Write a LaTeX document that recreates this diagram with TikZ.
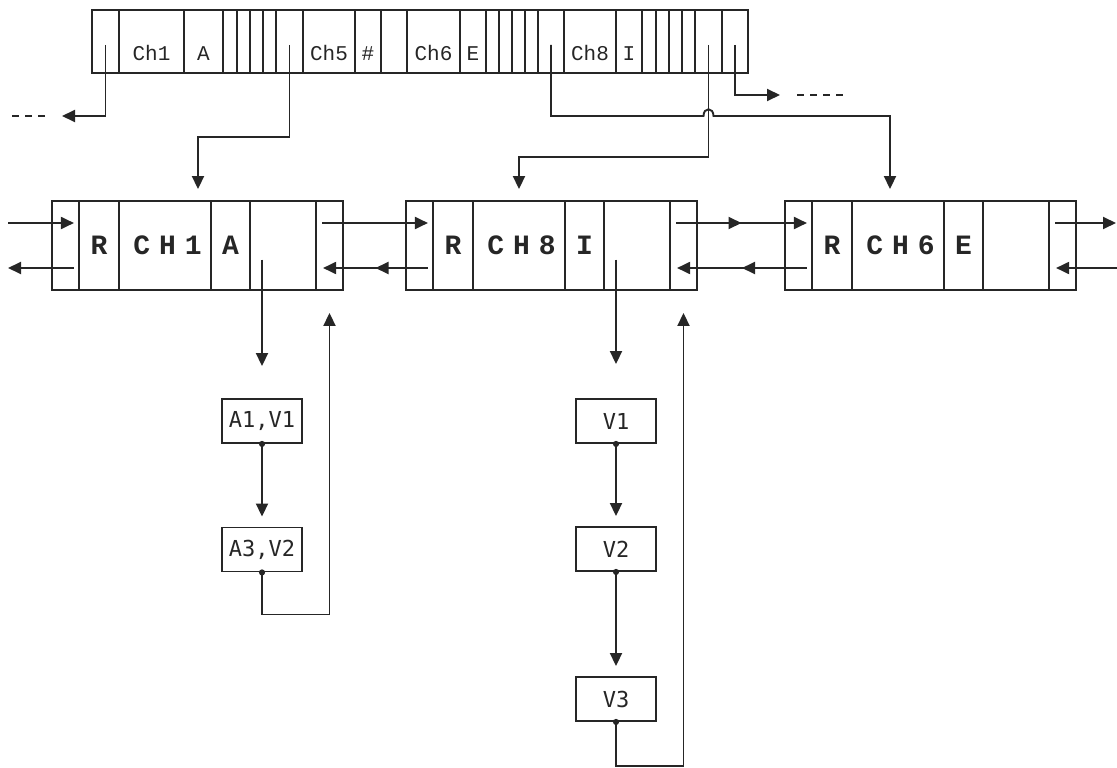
\documentclass[tikz,border=0pt]{standalone}
\usepackage{fontspec}
\setmonofont{Liberation Mono}
\newfontfamily\recfont{Liberation Mono}
\newfontfamily\recwide[LetterSpace=32]{Liberation Mono}
\newfontfamily\boxfont{DejaVu Sans Mono}
\usepackage{xcolor}
\usepackage{tikz}
\usetikzlibrary{arrows.meta,calc,decorations.markings}
\definecolor{ink}{HTML}{262626}

\begin{document}
\begin{tikzpicture}[x=1pt, y=-1pt,
  cell/.style={draw=ink, line width=1.9pt, inner sep=0pt, minimum height=63pt,
    text height=38pt, text depth=0pt, text=ink, font=\fontsize{21}{21}\selectfont\ttfamily},
  reccell/.style={draw=ink, line width=1.9pt, inner sep=0pt, minimum height=89pt,
    text=ink, font=\fontsize{28}{28}\selectfont\recfont\bfseries},
  item/.style={draw=ink, line width=1.9pt, inner sep=0pt, minimum width=80pt,
    minimum height=44pt, text=ink, font=\fontsize{22}{22}\selectfont\boxfont},
  link/.style={draw=ink, line width=1.9pt, -{Triangle[length=13pt,width=12pt]}},
  dotlink/.style={link, {Circle[length=6pt]}-{Triangle[length=13pt,width=12pt]}, shorten <=-3pt},
  twohead/.style={link, postaction={decorate}, decoration={markings,
    mark=at position 0.5 with {\arrow{Triangle[length=13pt,width=12pt]}}}},
  dashline/.style={draw=ink, line width=1.9pt, dash pattern=on 7pt off 6pt}]
\useasboundingbox (0,0) rectangle (1117,768);

% channel table
\foreach \n/\l/\r/\t in {1/92/119/{}, 2/119/184/Ch1, 3/184/223/A, 4/223/237/{},
    5/237/250/{}, 6/250/263/{}, 7/263/276/{}, 8/276/303/{}, 9/303/355/Ch5,
    10/355/381/\#, 11/381/407/{}, 12/407/460/Ch6, 13/460/486/E, 14/486/499/{},
    15/499/512/{}, 16/512/525/{}, 17/525/538/{}, 18/538/564/{}, 19/564/616/Ch8,
    20/616/642/I, 21/642/656/{}, 22/656/669/{}, 23/669/682/{}, 24/682/695/{},
    25/695/722/{}, 26/722/748/{}}
  \node[cell, minimum width=(\r-\l)*1pt] (b\n) at ({(\l+\r)/2}, 41.5) {\t};

% records
\foreach \k/\x/\nm/\tg in {1/52/CH1/A, 2/406/CH8/I, 3/785/CH6/E} {
  \foreach \i/\o/\w/\t in {1/0/27/{}, 2/27/40/R, 3/67/92/{\kern5pt\recwide\nm},
      4/159/39/\tg, 5/198/66/{}, 6/264/27/{}}
    \node[reccell, minimum width=\w*1pt] (r\k-\i) at ({\x+\o+\w/2}, 245.5) {\t};
  \coordinate (r\k-it) at ($(r\k-1.east)+(-6,-22.5)$);
  \coordinate (r\k-ib) at ($(r\k-1.east)+(-6,22.5)$);
  \coordinate (r\k-ot) at ($(r\k-6.west)+(7,-22.5)$);
  \coordinate (r\k-ob) at ($(r\k-6.west)+(8,22.5)$);
}

% value lists
\node[item] (a1) at (262,421) {A1,V1};
\node[item] (a3) at (262,549.5) {A3,V2};
\node[item] (v1) at (616,421) {V1};
\node[item] (v2) at (616,549) {V2};
\node[item] (v3) at (616,699) {V3};

% table pointers
\coordinate (lout) at (62,116);
\coordinate (rout) at (780,95);
\coordinate (hop) at (b25.center |- 0,116);
\draw[link] ([yshift=-3.5pt]b1.center) |- (lout);
\draw[dashline] ([xshift=-17pt]lout) -- ++(-33,0);
\draw[link] ([yshift=-3.5pt]b8.center) -- ++(0,92) -| ([xshift=33pt,yshift=11pt]r1-3.north);
\draw[link] ([yshift=-3.5pt]b18.center) |- ([xshift=-5pt]hop)
  .. controls +(0,-9) and +(0,-9) .. ([xshift=5pt]hop)
  -| ([xshift=-8pt,yshift=11pt]r3-3.north);
\draw[link] ([yshift=-3.5pt]b25.center) -- ++(0,112) -| ([yshift=11pt]r2-3.north);
\draw[link] ([yshift=-3.5pt]b26.center) |- (rout);
\draw[dashline] ([xshift=17pt]rout) -- ++(46,0);

% record chain
\coordinate (farL-t) at (8,223);
\coordinate (farL-b) at (8,268);
\coordinate (farR-t) at (1116,223);
\coordinate (farR-b) at (1117,268);
\draw[link] (farL-t) -- (r1-it);
\draw[link] (r1-ib) -- (farL-b);
\draw[link] (r1-ot) -- (r2-it);
\draw[twohead] (r2-ib) -- (r1-ob);
\draw[twohead] (r2-ot) -- (r3-it);
\draw[twohead] (r3-ib) -- (r2-ob);
\draw[link] (r3-ot) -- (farR-t);
\draw[link] (farR-b) -- (r3-ob);

% lists
\draw[link, shorten >=32pt] ($(a1.north |- r1-5.center)+(0,14)$) -- (a1.north);
\draw[dotlink, shorten >=10pt] (a1.south) -- (a3.north);
\draw[dotlink] (a3.south) -- ++(0,42) -| ([yshift=-22pt]r1-6.south);
\draw[link, shorten >=34pt] ($(v1.north |- r2-5.center)+(0,14)$) -- (v1.north);
\draw[dotlink, shorten >=10pt] (v1.south) -- (v2.north);
\draw[dotlink, shorten >=10pt] (v2.south) -- (v3.north);
\draw[dotlink] (v3.south) -- ++(0,44) -| ([yshift=-22pt]r2-6.south);
\end{tikzpicture}
\end{document}
